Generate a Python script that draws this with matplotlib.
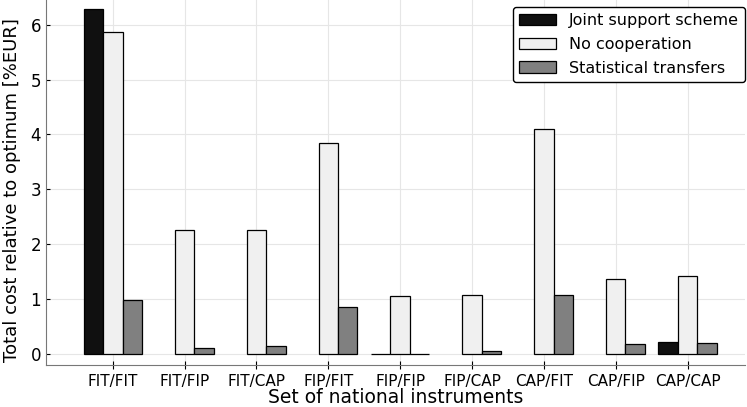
import matplotlib.pyplot as plt
import numpy as np

# data
instruments = ['FIT/FIT', 'FIT/FIP', 'FIT/CAP', 'FIP/FIT', 'FIP/FIP',
               'FIP/CAP', 'CAP/FIT', 'CAP/FIP', 'CAP/CAP']
joint = [6.29, np.nan, np.nan, np.nan, 0.0, np.nan, np.nan, np.nan, 0.22]
no_coop = [5.86, 2.26, 2.26, 3.85, 1.06, 1.08, 4.10, 1.37, 1.42]
stat_transfer = [0.98, 0.11, 0.155, 0.86, 0.0, 0.05, 1.08, 0.19, 0.20]

x = np.arange(len(instruments))
w = 0.27

fig = plt.figure(figsize=(7.47, 4.07), dpi=100)
ax = fig.add_axes([46 / 747, 42 / 407, 699 / 747, 365 / 407])

ax.bar(x - w, joint, w, color='#101010', edgecolor='black', linewidth=0.9,
       label='Joint support scheme', zorder=3)
ax.bar(x, no_coop, w, color='#f0f0f0', edgecolor='black', linewidth=0.9,
       label='No cooperation', zorder=3)
ax.bar(x + w, stat_transfer, w, color='#808080', edgecolor='black', linewidth=0.9,
       label='Statistical transfers', zorder=3)

ax.set_xlim(-0.93, 8.8)
ax.set_ylim(-0.2, 6.45)
ax.set_xticks(x)
ax.set_xticklabels(instruments, fontsize=11)
ax.set_yticks(range(7))
ax.tick_params(axis='y', labelsize=12, direction='in', length=3)
ax.tick_params(axis='x', direction='inout', length=6)
ax.grid(True, color='#e6e6e6', linewidth=0.8, zorder=0)
ax.set_axisbelow(True)

for s in ['top', 'right']:
    ax.spines[s].set_visible(False)
for s in ['left', 'bottom']:
    ax.spines[s].set_color('#777777')

ax.set_xlabel('Set of national instruments', fontsize=13.5)
ax.xaxis.set_label_coords(0.5, -0.064)
ax.set_ylabel('Total cost relative to optimum [%EUR]', fontsize=13)
ax.yaxis.set_label_coords(-0.036, 0.48)

leg = ax.legend(loc='upper right', bbox_to_anchor=(1.0, 0.982), fontsize=11.5,
                fancybox=True, framealpha=1, edgecolor='black',
                handlelength=2.3, labelspacing=0.55, borderaxespad=0)

fig.savefig('out.png', dpi=100)
